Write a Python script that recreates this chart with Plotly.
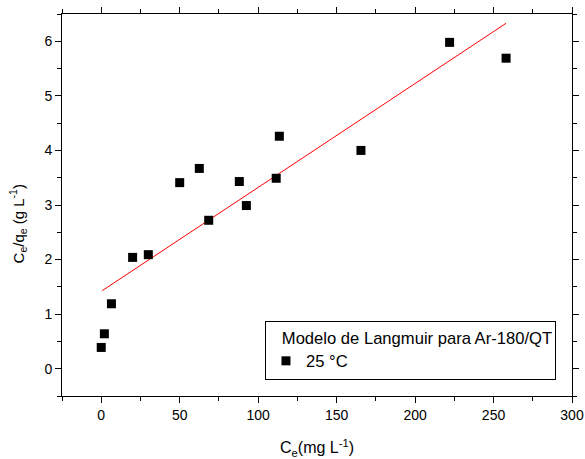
import plotly.graph_objects as go

ce = [0.0, 2.0, 6.5, 20.0, 30.0, 50.0, 62.5, 68.5, 88.0, 92.5, 111.5, 113.5, 165.5, 222.0, 258.0]
ce_qe = [0.39, 0.64, 1.19, 2.04, 2.09, 3.41, 3.67, 2.72, 3.43, 2.99, 3.49, 4.26, 4.0, 5.98, 5.69]
fit_x = [0.6, 258.0]
fit_y = [1.43, 6.33]

x_ticks = [0, 50, 100, 150, 200, 250, 300]
y_ticks = [0, 1, 2, 3, 4, 5, 6]

fig = go.Figure()
fig.add_trace(go.Scatter(x=fit_x, y=fit_y, mode="lines",
                         line=dict(color="#ff0000", width=1), showlegend=False))
fig.add_trace(go.Scatter(x=ce, y=ce_qe, mode="markers", name="25 °C",
                         marker=dict(symbol="square", size=9, color="black")))

font = dict(family="Liberation Sans, Arial, sans-serif", color="black")
axis_common = dict(showline=True, linecolor="black", linewidth=1, mirror="allticks",
                   ticks="outside", ticklen=6, tickcolor="black", tickwidth=1,
                   showgrid=False, zeroline=False, automargin=False,
                   tickfont=dict(size=14, **font))
fig.update_layout(
    template="none",
    width=585, height=459,
    margin=dict(l=62, r=13, t=14, b=63),
    plot_bgcolor="white", paper_bgcolor="white",
    font=font,
    xaxis=dict(range=[-25, 300], tickvals=x_ticks,
               minor=dict(dtick=25, ticks="outside", ticklen=4, tickcolor="black"),
               title=dict(text="C<sub>e</sub>(mg L<sup>-1</sup>)", font=dict(size=16), standoff=20),
               **axis_common),
    yaxis=dict(range=[-0.5, 6.5], tickvals=y_ticks,
               minor=dict(dtick=0.5, ticks="outside", ticklen=4, tickcolor="black"),
               title=dict(text="C<sub>e</sub>/q<sub>e</sub> (g L<sup>-1</sup>)" + "\u00a0" * 8
                          + "<span style='color:white'>.</span>",
                          font=dict(size=15), standoff=16),
               **axis_common),
    legend=dict(x=0.398, y=0.042, xanchor="left", yanchor="bottom",
                bgcolor="white", bordercolor="black", borderwidth=1,
                title=dict(text="\u00a0\u00a0\u00a0Modelo de Langmuir para Ar-180/QT", font=dict(size=16.6)),
                font=dict(size=16.6), tracegroupgap=0, itemwidth=30),
)
fig.write_html("out.html")
